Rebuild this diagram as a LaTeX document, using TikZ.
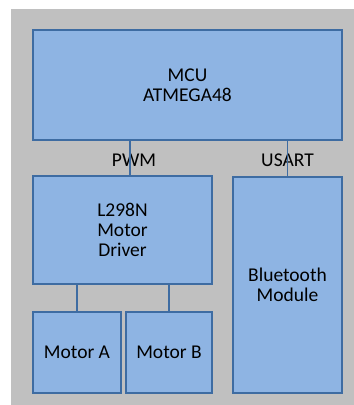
\documentclass[tikz,border=0pt]{standalone}
\usepackage{fontspec}
\setmainfont{Carlito}
\usepackage{tikz}
\usetikzlibrary{calc}
\definecolor{panelgray}{RGB}{192,192,192}
\definecolor{blkfill}{RGB}{142,180,227}
\definecolor{blkline}{RGB}{62,108,162}

\tikzset{
  blk/.style={draw=blkline, fill=blkfill, line width=1.5pt, align=center,
    inner sep=0pt, font=\fontsize{19.5}{20}\selectfont},
  wire/.style={draw=blkline, line width=1.5pt},
  sig/.style={font=\fontsize{19.5}{20}\selectfont}
}

\begin{document}
\begin{tikzpicture}[x=1pt, y=-1pt]
    \useasboundingbox (0,0) rectangle (354,405);
    \fill[panelgray] (11,9) rectangle (354,405);

    % blocks
    \node[blk, minimum width=309pt, minimum height=110pt] (mcu) at (187.5,85) {MCU\\ATMEGA48};
    \node[blk, minimum width=179pt, minimum height=108pt] (drv) at (122.5,230) {L298N\\Motor\\Driver};
    \node[blk, minimum width=109pt, minimum height=216pt] (bt) at (287.5,285) {Bluetooth\\Module};
    \node[blk, minimum width=88pt, minimum height=81pt] (ma) at (77,352.5) {Motor A};
    \node[blk, minimum width=86pt, minimum height=81pt] (mb) at (169,352.5) {Motor B};

    % bus labels
    \node[sig] (pwm) at (134,160) {PWM};
    \node[sig] (usart) at (287.5,160) {USART};

    % connections
    \draw[wire] ([xshift=7.5pt]drv.north) -- ([xshift=7.5pt]drv.north |- mcu.south);
    \draw[wire] (bt.north) -- (bt.north |- mcu.south);
    \draw[wire] (ma.north) -- (ma.north |- drv.south);
    \draw[wire] (mb.north) -- (mb.north |- drv.south);
\end{tikzpicture}
\end{document}
